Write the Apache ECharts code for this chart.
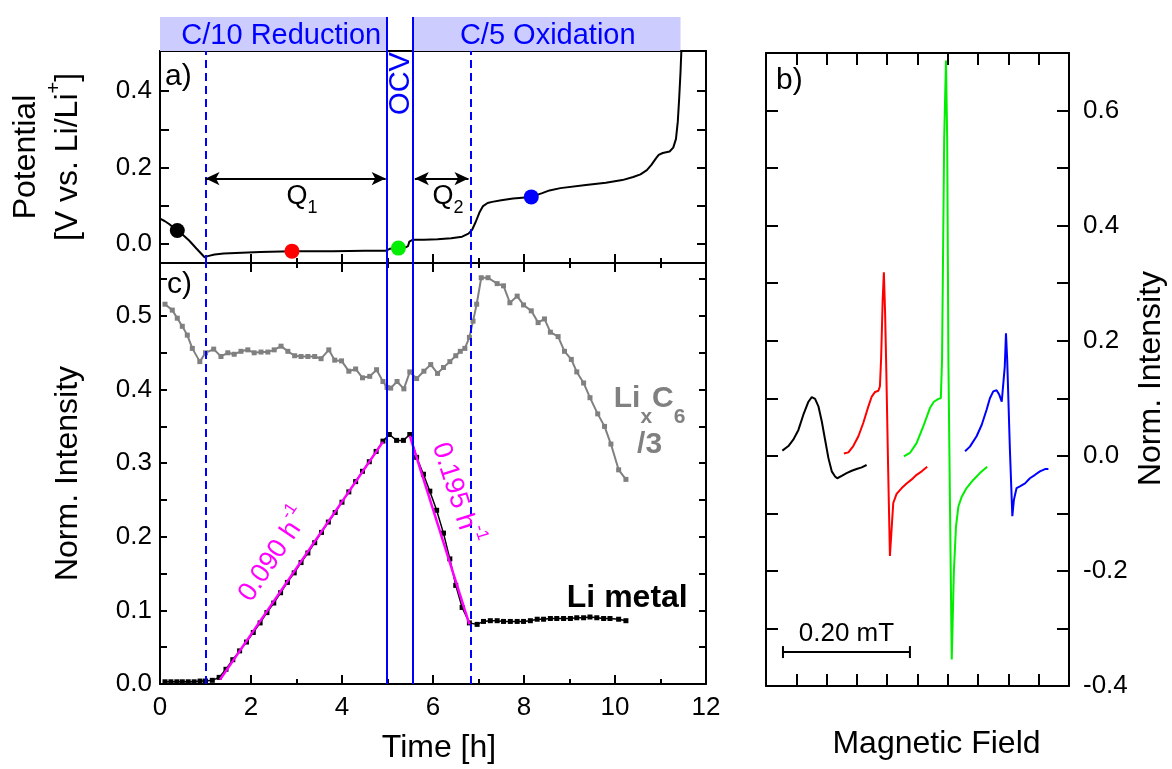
<!DOCTYPE html>
<html><head><meta charset="utf-8">
<script src="https://cdn.jsdelivr.net/npm/echarts@6/dist/echarts.min.js"></script>
<style>html,body{margin:0;padding:0;background:#fff}#c{width:1172px;height:769px}</style>
</head><body><div id="c"></div>
<script>
// ================= DATA =================
const bannerLabels = ['C/10 Reduction', 'C/5 Oxidation'];
const bannerStart = [0, 5.56];
const bannerEnd = [4.98, 11.44];
const ocvTimes = [4.98, 5.56];
const cutoffTimes = [1.0, 6.82];

// panel a: potential vs time
const potTime = [0.00,0.10,0.20,0.30,0.38,0.50,0.64,0.80,0.98,1.05,1.20,1.40,1.80,2.20,2.90,3.80,4.50,4.96,5.05,5.24,5.40,5.45,5.48,5.56,5.80,6.10,6.40,6.64,6.78,6.86,6.94,7.02,7.10,7.20,7.30,7.50,7.76,8.16,8.40,8.56,8.80,9.36,9.80,10.16,10.40,10.56,10.70,10.80,10.90,10.96,11.05,11.20,11.28,11.34,11.38,11.41,11.44,11.46,11.48];
const potValue = [0.066,0.060,0.052,0.042,0.035,0.024,0.009,-0.012,-0.035,-0.032,-0.028,-0.025,-0.023,-0.021,-0.019,-0.019,-0.018,-0.018,-0.013,-0.011,-0.009,-0.006,0.006,0.011,0.011,0.012,0.015,0.019,0.027,0.037,0.058,0.082,0.099,0.107,0.110,0.114,0.119,0.123,0.133,0.140,0.146,0.154,0.160,0.167,0.175,0.182,0.193,0.207,0.224,0.233,0.238,0.242,0.252,0.275,0.320,0.380,0.450,0.510,0.560];
const dotTime = [0.38, 2.90, 5.24, 8.16];
const dotValue = [0.035, -0.019, -0.011, 0.123];
const q1Range = [1.0, 4.96];
const q2Range = [5.60, 6.78];
const qLevel = 0.171;

// panel c: normalized intensities
const lixTime = [0.11,0.27,0.38,0.49,0.60,0.71,0.875,1.00,1.18,1.34,1.49,1.63,1.78,1.93,2.07,2.22,2.37,2.51,2.66,2.81,2.96,3.10,3.25,3.40,3.54,3.71,3.84,3.99,4.15,4.30,4.45,4.61,4.76,4.90,4.99,5.07,5.21,5.36,5.49,5.64,5.80,5.95,6.10,6.23,6.37,6.50,6.60,6.70,6.80,6.88,6.96,7.06,7.21,7.41,7.55,7.69,7.85,7.99,8.16,8.31,8.45,8.58,8.75,8.89,9.04,9.16,9.31,9.45,9.62,9.77,9.91,10.08,10.24];
const lixValue = [0.516,0.508,0.497,0.486,0.474,0.456,0.438,0.450,0.455,0.445,0.450,0.448,0.452,0.454,0.450,0.451,0.451,0.454,0.459,0.452,0.446,0.445,0.445,0.445,0.442,0.454,0.440,0.439,0.425,0.428,0.416,0.418,0.427,0.411,0.403,0.402,0.411,0.401,0.424,0.415,0.425,0.434,0.422,0.430,0.438,0.446,0.452,0.456,0.471,0.493,0.516,0.552,0.552,0.544,0.541,0.518,0.527,0.515,0.507,0.491,0.496,0.478,0.472,0.452,0.441,0.424,0.409,0.389,0.367,0.350,0.326,0.291,0.278];
const liTime = [0.11,0.24,0.37,0.49,0.62,0.75,0.88,1.00,1.15,1.30,1.45,1.60,1.75,1.90,2.05,2.20,2.35,2.50,2.65,2.80,2.95,3.10,3.25,3.40,3.55,3.70,3.85,4.00,4.15,4.30,4.45,4.60,4.75,4.90,5.04,5.20,5.35,5.49,5.64,5.79,5.93,6.08,6.23,6.37,6.50,6.64,6.80,6.97,7.11,7.26,7.41,7.55,7.70,7.85,7.99,8.14,8.29,8.43,8.58,8.72,8.87,9.02,9.16,9.31,9.45,9.60,9.75,9.89,10.08,10.24];
const liValue = [0.003,0.003,0.003,0.003,0.003,0.003,0.004,0.004,0.005,0.009,0.020,0.033,0.045,0.057,0.070,0.083,0.097,0.110,0.124,0.138,0.151,0.165,0.178,0.192,0.206,0.220,0.233,0.247,0.261,0.275,0.289,0.302,0.316,0.330,0.339,0.331,0.331,0.339,0.308,0.285,0.262,0.236,0.205,0.170,0.134,0.104,0.083,0.081,0.085,0.086,0.086,0.085,0.085,0.085,0.085,0.086,0.088,0.088,0.089,0.089,0.089,0.089,0.090,0.090,0.091,0.090,0.089,0.089,0.088,0.086];
const fit1Time = [1.32, 4.90];
const fit1Value = [0.006, 0.329];
const fit2Time = [5.49, 6.80];
const fit2Value = [0.337, 0.081];
const fitRates = ['0.090', '0.195'];

// panel b: EPR spectra (arbitrary field units)
const specBlackX = [0.54,0.74,0.90,1.07,1.23,1.40,1.51,1.62,1.73,1.84,1.95,2.06,2.17,2.28,2.35,2.50,2.66,2.83,2.99,3.16,3.32];
const specBlackY = [0.009,0.017,0.028,0.045,0.071,0.094,0.102,0.099,0.086,0.060,0.028,-0.004,-0.027,-0.036,-0.039,-0.035,-0.030,-0.026,-0.023,-0.020,-0.016];
const specRedX = [2.57,2.72,2.88,3.05,3.21,3.38,3.49,3.60,3.71,3.76,3.80,3.85,3.89,3.93,3.97,4.03,4.09,4.15,4.20,4.31,4.48,4.64,4.81,4.97,5.14,5.32];
const specRedY = [0.004,0.006,0.017,0.034,0.057,0.086,0.103,0.111,0.113,0.121,0.170,0.270,0.319,0.250,0.150,-0.020,-0.174,-0.123,-0.082,-0.066,-0.056,-0.048,-0.041,-0.033,-0.027,-0.019];
const specGreenX = [4.55,4.75,4.97,5.19,5.41,5.54,5.69,5.77,5.81,5.88,5.94,5.98,6.02,6.07,6.13,6.16,6.20,6.27,6.35,6.46,6.62,6.84,7.06,7.30];
const specGreenY = [-0.001,0.005,0.022,0.051,0.083,0.094,0.099,0.100,0.167,0.550,0.687,0.550,0.167,-0.077,-0.354,-0.290,-0.202,-0.123,-0.088,-0.071,-0.056,-0.042,-0.030,-0.019];
const specBlueX = [6.57,6.73,6.95,7.12,7.28,7.39,7.50,7.61,7.70,7.78,7.83,7.88,7.92,7.96,8.05,8.13,8.18,8.27,8.38,8.55,8.71,8.88,9.04,9.21,9.32];
const specBlueY = [0.008,0.016,0.034,0.054,0.080,0.100,0.112,0.114,0.106,0.094,0.092,0.155,0.213,0.167,0.010,-0.105,-0.077,-0.056,-0.053,-0.048,-0.039,-0.033,-0.027,-0.023,-0.023];
const scaleBarX = [0.56, 4.75];
const scaleBarY = -0.341;
const scaleBarLabel = '0.20 mT';

// tick values
const potLabelTicks = [0.0, 0.2, 0.4];
const potTicks = [0.0, 0.1, 0.2, 0.3, 0.4];
const intLabelTicks = [0.0, 0.1, 0.2, 0.3, 0.4, 0.5];
const intTicks = [0.0, 0.05, 0.1, 0.15, 0.2, 0.25, 0.3, 0.35, 0.4, 0.45, 0.5, 0.55];
const specLabelTicks = [-0.4, -0.2, 0.0, 0.2, 0.4, 0.6];
const specTicks = [-0.3, -0.2, -0.1, 0.0, 0.1, 0.2, 0.3, 0.4, 0.5, 0.6];
const fieldTicks = [1, 2, 3, 4, 5, 6, 7, 8, 9];

// ================= CHART =================
const F = '"Liberation Sans", Arial, Helvetica, sans-serif';
const BLUE = '#0000ff', MAG = '#ff00ff', GRAY = '#808080', GREEN = '#00ee00', RED = '#ff0000';
const pairs = (xs, ys) => xs.map((x, i) => [x, ys[i]]);
const fmt1 = v => Number(v).toFixed(1);

function frame(o) {
  return Object.assign({
    type: 'value',
    axisLine: {show: true, onZero: false, lineStyle: {color: '#000', width: 2}},
    axisTick: {show: false},
    axisLabel: {show: false},
    splitLine: {show: false}
  }, o);
}
const ticks = (vals, len) => ({show: true, inside: true, length: len, customValues: vals, lineStyle: {color: '#000', width: 2}});
const timeTicks = {show: true, inside: true, length: 9, lineStyle: {color: '#000', width: 2}};
const timeMinor = {show: true, splitNumber: 2, length: 5, lineStyle: {color: '#000', width: 2}};
const nameStyle = {fontFamily: F, fontSize: 32, color: '#000'};
const labelStyle = {fontFamily: F, fontSize: 26, color: '#000'};

const chart = echarts.init(document.getElementById('c'), null, {renderer: 'canvas'});

const grids = [
  {left: 160, top: 17, width: 546, height: 34},   // banner
  {left: 160, top: 51, width: 546, height: 212},  // a
  {left: 160, top: 263, width: 546, height: 422}, // c
  {left: 766, top: 53, width: 303, height: 633}   // b
];

const xAxes = [
  {type: 'value', gridIndex: 0, min: 0, max: 12, show: false},
  frame({gridIndex: 1, position: 'bottom', min: 0, max: 12, interval: 2, axisTick: timeTicks, minorTick: timeMinor}),
  frame({gridIndex: 1, position: 'top', min: 0, max: 12}),
  frame({gridIndex: 2, position: 'bottom', min: 0, max: 12, interval: 2, axisTick: timeTicks, minorTick: timeMinor,
    axisLabel: Object.assign({show: true, margin: 11}, labelStyle),
    name: 'Time [h]', nameLocation: 'middle', nameGap: 48,
    nameTextStyle: Object.assign({}, nameStyle, {padding: [0, 0, 0, 12]})}),
  frame({gridIndex: 2, position: 'top', min: 0, max: 12, interval: 2, axisTick: timeTicks, minorTick: timeMinor}),
  frame({gridIndex: 3, position: 'bottom', min: 0, max: 10, axisTick: ticks(fieldTicks, 12),
    name: 'Magnetic Field', nameLocation: 'middle', nameGap: 42,
    nameTextStyle: Object.assign({}, nameStyle, {padding: [0, 0, 0, 38]})}),
  frame({gridIndex: 3, position: 'top', min: 0, max: 10, axisTick: ticks(fieldTicks, 12)})
];

const yAxes = [
  {type: 'value', gridIndex: 0, min: 0, max: 1, show: false},
  frame({gridIndex: 1, position: 'left', min: -0.05, max: 0.505, axisTick: ticks(potTicks, 9),
    axisLabel: Object.assign({show: true, margin: 8, customValues: potLabelTicks, formatter: fmt1}, labelStyle),
    name: '{t|Potential}\n{t|[V vs. Li/Li}{p|+}{t|]}', nameLocation: 'middle', nameRotate: 90, nameGap: 71,
    nameTextStyle: Object.assign({}, nameStyle, {rich: {
      t: {fontFamily: F, fontSize: 32, color: '#000', lineHeight: 42},
      p: {fontFamily: F, fontSize: 20, color: '#000', verticalAlign: 'top', height: 14}
    }})}),
  frame({gridIndex: 1, position: 'right', min: -0.05, max: 0.505, axisTick: ticks(potTicks, 9)}),
  frame({gridIndex: 2, position: 'left', min: 0, max: 0.572, axisTick: ticks(intTicks, 7),
    axisLabel: Object.assign({show: true, margin: 8, customValues: intLabelTicks, formatter: fmt1}, labelStyle),
    name: 'Norm. Intensity', nameLocation: 'middle', nameRotate: 90, nameGap: 76, nameTextStyle: nameStyle}),
  frame({gridIndex: 2, position: 'right', min: 0, max: 0.572, axisTick: ticks(intTicks, 7)}),
  frame({gridIndex: 3, position: 'left', min: -0.4, max: 0.7, axisTick: ticks(specTicks, 12)}),
  frame({gridIndex: 3, position: 'right', min: -0.4, max: 0.7, axisTick: ticks(specTicks, 12),
    axisLabel: Object.assign({show: true, margin: 14, customValues: specLabelTicks, formatter: fmt1}, labelStyle),
    name: 'Norm. Intensity', nameLocation: 'middle', nameRotate: 90, nameGap: 66,
    nameTextStyle: Object.assign({}, nameStyle, {padding: [0, 18, 0, 0]})})
];

const vLines = () => ocvTimes.map(t => ({xAxis: t, lineStyle: {color: BLUE, width: 2, type: 'solid'}}))
  .concat(cutoffTimes.map(t => ({xAxis: t, lineStyle: {color: BLUE, width: 2, type: [8, 5]}})));
const vMark = data => ({silent: true, symbol: ['none', 'none'], label: {show: false}, animation: false, data: data});

const noBorder = {textBorderWidth: 0, textBorderColor: 'transparent', textShadowBlur: 0};
const textItem = (x, y, label) => ({value: [x, y], label: Object.assign({show: true, position: 'inside', opacity: 1}, noBorder, label)});
const annSeries = (xi, yi, data, extra) => Object.assign({
  type: 'scatter', xAxisIndex: xi, yAxisIndex: yi, symbolSize: 1, silent: true,
  itemStyle: {color: 'rgba(0,0,0,0)', opacity: 1}, z: 10, data: data
}, extra || {});

const qRich = {
  q: Object.assign({fontFamily: F, fontSize: 27, color: '#000', lineHeight: 34}, noBorder),
  s: Object.assign({fontFamily: F, fontSize: 18, color: '#000', verticalAlign: 'bottom', height: 10}, noBorder)
};
const rateRich = {
  m: Object.assign({fontFamily: F, fontSize: 27, color: MAG, lineHeight: 34}, noBorder),
  s: Object.assign({fontFamily: F, fontSize: 17, color: MAG, verticalAlign: 'top', height: 10}, noBorder)
};
const lixRich = {
  a: Object.assign({fontFamily: F, fontSize: 30, fontWeight: 'bold', color: GRAY, lineHeight: 46}, noBorder),
  b: Object.assign({fontFamily: F, fontSize: 21, fontWeight: 'bold', color: GRAY, verticalAlign: 'bottom', height: 10}, noBorder)
};

const specLine = (xs, ys, color) => ({
  type: 'line', xAxisIndex: 5, yAxisIndex: 5, data: pairs(xs, ys), symbol: 'none', silent: true,
  lineStyle: {color: color, width: 2}, itemStyle: {color: color}
});

const series = [
  // banner
  {type: 'line', xAxisIndex: 0, yAxisIndex: 0, data: [[0, -1]], symbol: 'none', silent: true, lineStyle: {width: 0},
    markArea: {silent: true, itemStyle: {color: '#ccccff'},
      label: {show: true, position: 'inside', color: BLUE, fontFamily: F, fontSize: 29},
      data: bannerLabels.map((n, i) => [{name: n, xAxis: bannerStart[i], label: {offset: [i === 0 ? 8 : 1, 2]}}, {xAxis: bannerEnd[i]}])},
    markLine: vMark(ocvTimes.map(t => ({xAxis: t, lineStyle: {color: BLUE, width: 2, type: 'solid'}})))},
  // panel a potential
  {type: 'line', xAxisIndex: 1, yAxisIndex: 1, data: pairs(potTime, potValue), symbol: 'none', silent: true,
    lineStyle: {color: '#000', width: 2}, z: 3, markLine: vMark(vLines())},
  {type: 'scatter', xAxisIndex: 1, yAxisIndex: 1, symbolSize: 15, silent: true, z: 5,
    data: pairs(dotTime, dotValue).map((p, i) => ({value: p, itemStyle: {opacity: 1, color: ['#000', RED, GREEN, BLUE][i]}}))},
  annSeries(1, 1, [
    textItem(5.29, 0.42, {formatter: 'OCV', rotate: 90, color: BLUE, fontFamily: F, fontSize: 29}),
    textItem(3.12, 0.125, {formatter: '{q|Q}{s|1}', rich: qRich}),
    textItem(6.33, 0.125, {formatter: '{q|Q}{s|2}', rich: qRich})
  ], {markLine: {silent: true, symbol: ['arrow', 'arrow'], symbolSize: [10, 14], label: {show: false},
      lineStyle: {color: '#000', width: 2, type: 'solid'},
      data: [[{coord: [q1Range[0], qLevel]}, {coord: [q1Range[1], qLevel]}],
             [{coord: [q2Range[0], qLevel]}, {coord: [q2Range[1], qLevel]}]]}}),
  // panel c
  {type: 'line', xAxisIndex: 3, yAxisIndex: 3, data: pairs(lixTime, lixValue), symbol: 'rect', symbolSize: 5,
    silent: true, lineStyle: {color: GRAY, width: 2}, itemStyle: {color: GRAY}, markLine: vMark(vLines())},
  {type: 'line', xAxisIndex: 3, yAxisIndex: 3, data: pairs(liTime, liValue), symbol: 'rect', symbolSize: 5,
    silent: true, lineStyle: {color: '#000', width: 1.5}, itemStyle: {color: '#000'}},
  {type: 'line', xAxisIndex: 3, yAxisIndex: 3, data: pairs(fit1Time, fit1Value), symbol: 'none', silent: true,
    lineStyle: {color: MAG, width: 2.5}, z: 4},
  {type: 'line', xAxisIndex: 3, yAxisIndex: 3, data: pairs(fit2Time, fit2Value), symbol: 'none', silent: true,
    lineStyle: {color: MAG, width: 2.5}, z: 4},
  annSeries(3, 3, [
    textItem(2.51, 0.175, {formatter: '{m|' + fitRates[0] + ' h}{s|-1}', rotate: 56, rich: rateRich}),
    textItem(6.50, 0.259, {formatter: '{m|' + fitRates[1] + ' h}{s|-1}', rotate: -72, rich: rateRich}),
    textItem(10.27, 0.117, {formatter: 'Li metal', fontFamily: F, fontSize: 32, fontWeight: 'bold', color: '#000'}),
    textItem(10.76, 0.356, {formatter: '{a|Li}{b|x}{a|C}{b|6}\n{a|/3}', align: 'center', rich: lixRich})
  ]),
  // panel b
  Object.assign(specLine(specBlackX, specBlackY, '#000'), {
    markLine: {silent: true, symbol: ['rect', 'rect'], symbolSize: [12, 2],
      lineStyle: {color: '#000', width: 2, type: 'solid'},
      label: {show: true, position: 'insideMiddleTop', distance: 5, formatter: scaleBarLabel, fontFamily: F, fontSize: 26, color: '#000'},
      data: [[{coord: [scaleBarX[0], scaleBarY]}, {coord: [scaleBarX[1], scaleBarY]}]]}}),
  specLine(specRedX, specRedY, RED),
  specLine(specGreenX, specGreenY, GREEN),
  specLine(specBlueX, specBlueY, BLUE)
];

chart.setOption({
  animation: false,
  backgroundColor: '#fff',
  textStyle: {fontFamily: F},
  grid: grids,
  xAxis: xAxes,
  yAxis: yAxes,
  series: series,
  graphic: [
    {type: 'text', left: 165, top: 62, style: {text: 'a)', fontFamily: F, fontSize: 30, fill: '#000'}},
    {type: 'text', left: 167, top: 270, style: {text: 'c)', fontFamily: F, fontSize: 30, fill: '#000'}},
    {type: 'text', left: 776, top: 66, style: {text: 'b)', fontFamily: F, fontSize: 30, fill: '#000'}}
  ]
});
</script></body></html>
